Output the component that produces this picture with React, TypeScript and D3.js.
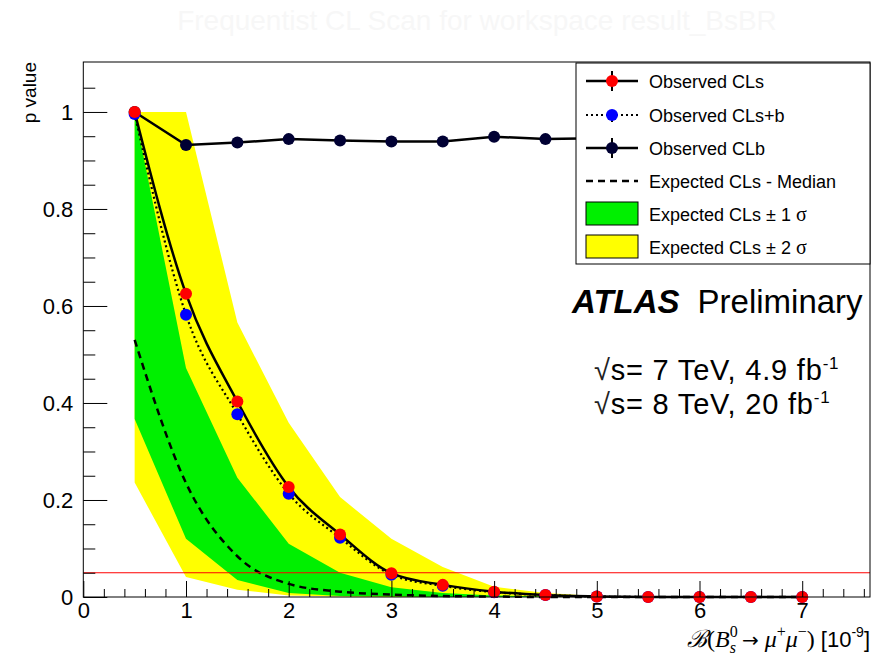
import React, { useEffect, useRef } from 'react'
import * as d3 from 'd3'

// scan points (BR in 1e-9)
const muPoints = [0.5, 1, 1.5, 2, 2.5, 3, 3.5, 4, 4.5, 5, 5.5, 6, 6.5, 7]

const obsCLs = [1.0, 0.625, 0.403, 0.227, 0.129, 0.049, 0.025, 0.011, 0.004, 0.001, 0, 0, 0, 0]
const obsCLsb = [0.996, 0.582, 0.377, 0.213, 0.122, 0.046, 0.023, 0.01, 0.004, 0.001, 0, 0, 0, 0]
const obsCLb = [1.0, 0.932, 0.937, 0.944, 0.941, 0.939, 0.939, 0.949, 0.944, 0.946, 0.948, 0.95, 0.951, 0.953]

const expMedian = [0.53, 0.235, 0.084, 0.027, 0.011, 0.005, 0.002, 0.001, 0, 0, 0, 0, 0, 0]
const exp1SigUp = [1.0, 0.472, 0.246, 0.11, 0.05, 0.02, 0.008, 0.003, 0.001, 0, 0, 0, 0, 0]
const exp1SigDn = [0.367, 0.12, 0.035, 0.008, 0.002, 0.001, 0, 0, 0, 0, 0, 0, 0, 0]
const exp2SigUp = [1.0, 1.0, 0.566, 0.359, 0.206, 0.12, 0.062, 0.021, 0.008, 0.002, 0.001, 0, 0, 0]
const exp2SigDn = [0.236, 0.041, 0.015, 0.003, 0.001, 0, 0, 0, 0, 0, 0, 0, 0, 0]

const clThreshold = 0.05

const xTicks = [0, 1, 2, 3, 4, 5, 6, 7]
const yTicks = [0, 0.2, 0.4, 0.6, 0.8, 1]

const legendLabels = [
  'Observed CLs',
  'Observed CLs+b',
  'Observed CLb',
  'Expected CLs - Median',
  'Expected CLs \u00b1 1 ',
  'Expected CLs \u00b1 2 ',
]

const SANS = '"Liberation Sans", Arial, Helvetica, sans-serif'
const SERIF = '"Liberation Serif", "DejaVu Serif", serif'

export default function App() {
  const ref = useRef<SVGSVGElement>(null)

  useEffect(() => {
    const svg = d3.select(ref.current)
    svg.selectAll('*').remove()

    const W = 887
    const H = 657
    const left = 83.3, right = 870, top = 62, bottom = 597

    const x = d3.scaleLinear().domain([0, 7.66]).range([left, right])
    const y = d3.scaleLinear().domain([0, 1.103]).range([bottom, top])

    svg.append('rect').attr('width', W).attr('height', H).attr('fill', '#fff')

    // title (almost invisible in the original)
    svg.append('text')
      .attr('x', 477).attr('y', 30)
      .attr('text-anchor', 'middle')
      .attr('font-family', SANS).attr('font-size', 28)
      .attr('fill', '#f7f7f7')
      .text('Frequentist CL Scan for workspace result_BsBR')

    const plot = svg.append('g')

    // bands
    const band = (lo: number[], hi: number[]) => d3.area<number>()
      .x((d, i) => x(muPoints[i]))
      .y0((d, i) => y(lo[i]))
      .y1((d, i) => y(hi[i]))(muPoints)

    plot.append('path').attr('d', band(exp2SigDn, exp2SigUp)!).attr('fill', '#ffff00')
    plot.append('path').attr('d', band(exp1SigDn, exp1SigUp)!).attr('fill', '#00f000')

    const smooth = d3.line<number>()
      .x((d, i) => x(muPoints[i]))
      .y(d => y(d))
      .curve(d3.curveMonotoneX)
    const straight = d3.line<number>()
      .x((d, i) => x(muPoints[i]))
      .y(d => y(d))

    plot.append('path').attr('d', smooth(expMedian)!)
      .attr('fill', 'none').attr('stroke', '#000').attr('stroke-width', 2.5)
      .attr('stroke-dasharray', '7,5')

    plot.append('line')
      .attr('x1', left).attr('x2', right)
      .attr('y1', y(clThreshold)).attr('y2', y(clThreshold))
      .attr('stroke', '#ff0000').attr('stroke-width', 1.2)

    plot.append('path').attr('d', smooth(obsCLsb)!)
      .attr('fill', 'none').attr('stroke', '#000').attr('stroke-width', 2.2)
      .attr('stroke-dasharray', '2,3')

    plot.append('path').attr('d', smooth(obsCLs)!)
      .attr('fill', 'none').attr('stroke', '#000').attr('stroke-width', 2.5)

    plot.append('path').attr('d', straight(obsCLb)!)
      .attr('fill', 'none').attr('stroke', '#000').attr('stroke-width', 2.5)

    const dots = (vals: number[], color: string) => plot.append('g')
      .attr('fill', color)
      .selectAll('circle')
      .data(vals)
      .join('circle')
      .attr('cx', (d, i) => x(muPoints[i]))
      .attr('cy', d => y(d))
      .attr('r', 6)

    dots(obsCLb, '#000033')
    dots(obsCLsb, '#0000ff')
    dots(obsCLs, '#ff0000')

    // frame
    svg.append('rect')
      .attr('x', left).attr('y', top)
      .attr('width', right - left).attr('height', bottom - top)
      .attr('fill', 'none').attr('stroke', '#000').attr('stroke-width', 1)

    // x axis
    const xMinor = d3.range(0, 7.7, 0.2).filter(v => Math.abs(v - Math.round(v)) > 0.01)
    svg.append('g')
      .attr('transform', `translate(0,${bottom})`)
      .call(d3.axisBottom(x).tickValues(xMinor).tickSize(-8).tickFormat(() => ''))
      .call(g => g.select('.domain').remove())
    svg.append('g')
      .attr('transform', `translate(0,${bottom})`)
      .call(d3.axisBottom(x).tickValues(xTicks).tickSize(-16).tickPadding(5).tickFormat(d3.format('d')))
      .call(g => g.select('.domain').remove())
      .call(g => g.selectAll('text').attr('font-family', SANS).attr('font-size', 22).attr('fill', '#000'))

    // y axis
    const yMinor = d3.range(0, 1.1, 0.05).filter(v => Math.abs(v * 5 - Math.round(v * 5)) > 0.01)
    svg.append('g')
      .attr('transform', `translate(${left},0)`)
      .call(d3.axisLeft(y).tickValues(yMinor).tickSize(-12).tickFormat(() => ''))
      .call(g => g.select('.domain').remove())
    svg.append('g')
      .attr('transform', `translate(${left},0)`)
      .call(d3.axisLeft(y).tickValues(yTicks).tickSize(-24).tickPadding(10).tickFormat(d3.format('')))
      .call(g => g.select('.domain').remove())
      .call(g => g.selectAll('text').attr('font-family', SANS).attr('font-size', 22).attr('fill', '#000'))

    // axis titles
    svg.append('text')
      .attr('transform', 'translate(36,62) rotate(-90)')
      .attr('text-anchor', 'end')
      .attr('font-family', SANS).attr('font-size', 19)
      .text('p value')

    const xl = svg.append('text')
      .attr('x', 870).attr('y', 647)
      .attr('text-anchor', 'end')
      .attr('font-family', SERIF).attr('font-size', 24)
    xl.append('tspan').attr('font-style', 'italic').text('\u212c')
    xl.append('tspan').text('(')
    xl.append('tspan').attr('font-style', 'italic').text('B')
    xl.append('tspan').attr('font-size', 16).attr('dy', -10).text('0')
    xl.append('tspan').attr('font-size', 16).attr('font-style', 'italic').attr('dx', -8).attr('dy', 16).text('s')
    xl.append('tspan').attr('dy', -6).text(' ')
    xl.append('tspan').attr('font-family', '"DejaVu Sans", sans-serif').attr('font-size', 20).text('\u2192')
    xl.append('tspan').text(' ')
    xl.append('tspan').attr('font-style', 'italic').text('\u03bc')
    xl.append('tspan').attr('font-size', 16).attr('dy', -10).text('+')
    xl.append('tspan').attr('font-style', 'italic').attr('dy', 10).text('\u03bc')
    xl.append('tspan').attr('font-size', 16).attr('dy', -10).text('\u2212')
    xl.append('tspan').attr('dy', 10).text(') ')
    xl.append('tspan').attr('font-family', SANS).attr('font-size', 22).text('[10')
    xl.append('tspan').attr('font-family', SANS).attr('font-size', 14).attr('dy', -10).text('-9')
    xl.append('tspan').attr('font-family', SANS).attr('font-size', 22).attr('dy', 10).text(']')

    // ATLAS label
    const atl = svg.append('text')
      .attr('x', 572).attr('y', 313)
      .attr('font-family', SANS).attr('font-size', 33)
    atl.append('tspan').attr('font-weight', 'bold').attr('font-style', 'italic').text('ATLAS')
    atl.append('tspan').attr('dx', 18).text('Preliminary')

    const energyLines = [['7', '4.9'], ['8', '20']]
    energyLines.forEach(([e, lumi], i) => {
      const t = svg.append('text')
        .attr('x', 594).attr('y', 380 + i * 34)
        .attr('font-family', SANS).attr('font-size', 29)
        .attr('letter-spacing', 0.8)
      t.append('tspan').attr('fill', '#222').text('\u221a')
      t.append('tspan').text(`s= ${e} TeV, ${lumi} fb`)
      t.append('tspan').attr('font-size', 17).attr('dy', -11).text('-1')
    })

    // legend
    const lg = svg.append('g')
    lg.append('rect')
      .attr('x', 576).attr('y', 63).attr('width', 294).attr('height', 201)
      .attr('fill', '#fff').attr('stroke', '#000').attr('stroke-width', 1)

    const rowY = [81, 115, 148, 181, 214, 247]
    const sx0 = 586, sx1 = 638, sxm = 612

    // marker rows
    const markerColors = ['#ff0000', '#0000ff', '#000033']
    markerColors.forEach((c, i) => {
      const yy = rowY[i]
      lg.append('line')
        .attr('x1', sx0).attr('x2', sx1).attr('y1', yy).attr('y2', yy)
        .attr('stroke', '#000').attr('stroke-width', i === 1 ? 2 : 2.5)
        .attr('stroke-dasharray', i === 1 ? '2,3' : null)
      lg.append('line')
        .attr('x1', sxm).attr('x2', sxm)
        .attr('y1', i === 1 ? yy : yy - 10).attr('y2', yy + 10)
        .attr('stroke', '#000').attr('stroke-width', 2)
        .attr('stroke-dasharray', i === 1 ? '2,3' : null)
      lg.append('circle').attr('cx', sxm).attr('cy', yy).attr('r', 6).attr('fill', c)
    })
    lg.append('line')
      .attr('x1', sx0).attr('x2', sx1).attr('y1', rowY[3]).attr('y2', rowY[3])
      .attr('stroke', '#000').attr('stroke-width', 2.5).attr('stroke-dasharray', '7,5')
    ;['#00f000', '#ffff00'].forEach((c, k) => {
      lg.append('rect')
        .attr('x', sx0).attr('y', rowY[4 + k] - 12).attr('width', sx1 - sx0).attr('height', 23)
        .attr('fill', c).attr('stroke', '#000').attr('stroke-width', 1)
    })

    legendLabels.forEach((lab, i) => {
      const t = lg.append('text')
        .attr('x', 649).attr('y', rowY[i] + 6.5)
        .attr('font-family', SANS).attr('font-size', 18)
        .text(lab)
      if (i >= 4) t.append('tspan').attr('font-family', SERIF).attr('font-size', 20).text('\u03c3')
    })
  }, [])

  return (
    <div>
      <style>{'body{margin:0}'}</style>
      <svg ref={ref} width={887} height={657} style={{ display: 'block' }} />
    </div>
  )
}
